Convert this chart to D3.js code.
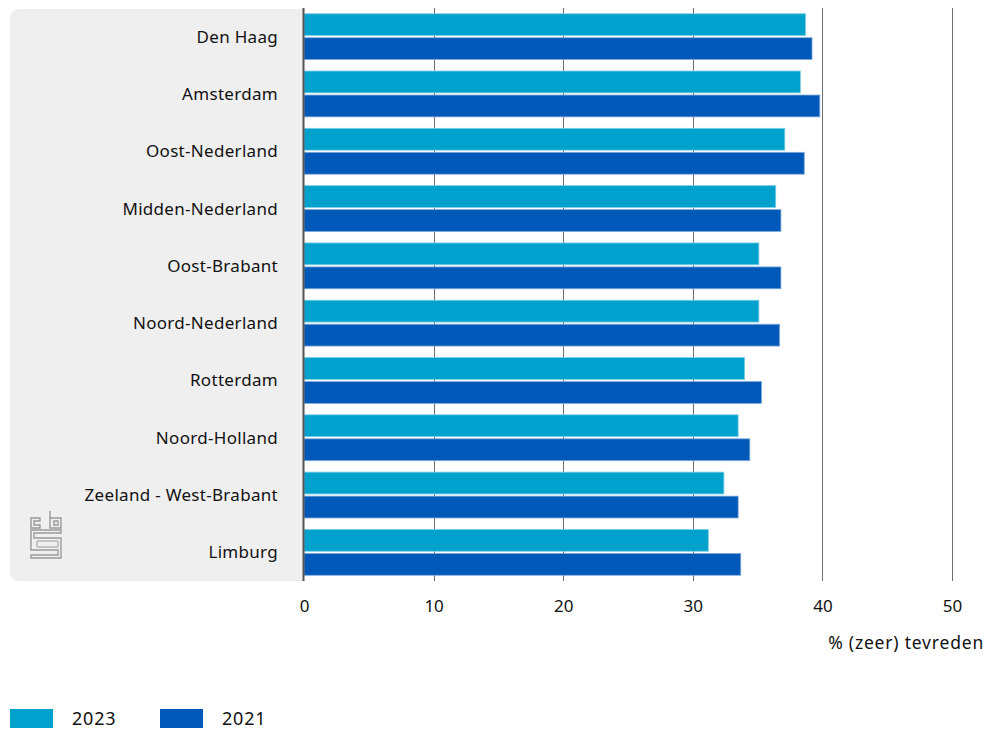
<!DOCTYPE html>
<html><head><meta charset="utf-8">
<script src="https://cdn.jsdelivr.net/npm/d3@7"></script>
<style>body{margin:0;background:#fff}svg{display:block;font-family:"Noto Sans",sans-serif}</style>
</head><body><svg id="c" width="996" height="731"></svg>
<script>
const categories = ["Den Haag","Amsterdam","Oost-Nederland","Midden-Nederland","Oost-Brabant","Noord-Nederland","Rotterdam","Noord-Holland","Zeeland - West-Brabant","Limburg"];
const values2023 = [38.7,38.3,37.1,36.4,35.1,35.1,34.0,33.5,32.4,31.2];
const values2021 = [39.2,39.8,38.6,36.8,36.8,36.7,35.3,34.4,33.5,33.7];
const seriesNames = ["2023","2021"];
const colors = ["#00a1cd","#0058b8"];
const xTicks = [0,10,20,30,40,50];
const axisTitle = "% (zeer) tevreden";

const svg = d3.select("#c");
const x = d3.scaleLinear().domain([0,50]).range([304,952]);
const y = d3.scaleBand().domain(categories).range([8,581]).paddingInner(0.2).paddingOuter(0.1);
const sub = d3.scaleBand().domain(seriesNames).range([0,y.bandwidth()]).paddingInner(0.09);

// gray panel
svg.append("path")
  .attr("d", (()=>{const x0=10,x1=304,y0=9,y1=581,r=10;
    return `M${x0+r},${y0}H${x1}V${y1}H${x0+r}Q${x0},${y1} ${x0},${y1-r}V${y0+r}Q${x0},${y0} ${x0+r},${y0}Z`;})())
  .attr("fill","#efefef");

// logo
const logo = svg.append("g").attr("transform","translate(30,511)").attr("fill","none").attr("stroke","#9a9a9a").attr("stroke-width",1.4);
logo.append("path").attr("d","M1,7H10V10H4V14H10V17H1Z");
logo.append("path").attr("d","M20,0V7H31V17H20V0M24,10V14H28V10Z");
logo.append("path").attr("d","M1,19H31V22H4V27H31V47H1V44H28V39H1Z");
logo.append("path").attr("d","M7,30H28V36H7Z").attr("stroke-width",1);

// gridlines
svg.append("g").selectAll("line").data(xTicks.slice(1)).join("line")
  .attr("x1",d=>Math.round(x(d))+0.5).attr("x2",d=>Math.round(x(d))+0.5)
  .attr("y1",8).attr("y2",581).attr("stroke","#6e6e6e").attr("stroke-width",1);

// bars
const rows = categories.map((c,i)=>({c, vals:[values2023[i],values2021[i]]}));
const g = svg.append("g").selectAll("g").data(rows).join("g").attr("transform",d=>`translate(0,${y(d.c)})`);
g.selectAll("rect").data(d=>d.vals.map((v,j)=>({v,s:seriesNames[j],j}))).join("rect")
  .attr("x",x(0)).attr("y",d=>sub(d.s)).attr("width",d=>x(d.v)-x(0)).attr("height",sub.bandwidth())
  .attr("fill",d=>colors[d.j]).attr("stroke",d=>d.j===0?"#7fd0e6":"#7faadb").attr("stroke-width",0.8);

// zero axis
svg.append("line").attr("x1",303.5).attr("x2",303.5).attr("y1",8).attr("y2",581).attr("stroke","#555").attr("stroke-width",2);

// category labels
svg.append("g").selectAll("text").data(categories).join("text")
  .attr("x",278).attr("y",d=>y(d)+y.bandwidth()/2).attr("dy","0.35em")
  .attr("text-anchor","end").attr("font-size",17).attr("letter-spacing",0.3).attr("fill","#111").text(d=>d);

// x axis tick labels
const ax = svg.append("g").attr("transform","translate(0,581)")
  .call(d3.axisBottom(x).tickValues(xTicks).tickSize(0).tickPadding(19));
ax.select(".domain").remove();
ax.selectAll("text").attr("font-size",17).attr("fill","#111").attr("font-family","Noto Sans");

svg.append("text").attr("x",984).attr("y",649).attr("text-anchor","end").attr("font-size",17.5).attr("letter-spacing",0.8).attr("fill","#111").text(axisTitle);

// legend
const lg = svg.append("g").selectAll("g").data(seriesNames).join("g").attr("transform",(d,i)=>`translate(${10+i*150},709)`);
lg.append("rect").attr("width",43).attr("height",19).attr("fill",(d,i)=>colors[i]);
lg.append("text").attr("x",62).attr("y",10).attr("dy","0.35em").attr("font-size",18).attr("letter-spacing",0.8).attr("fill","#111").text(d=>d);
</script></body></html>
